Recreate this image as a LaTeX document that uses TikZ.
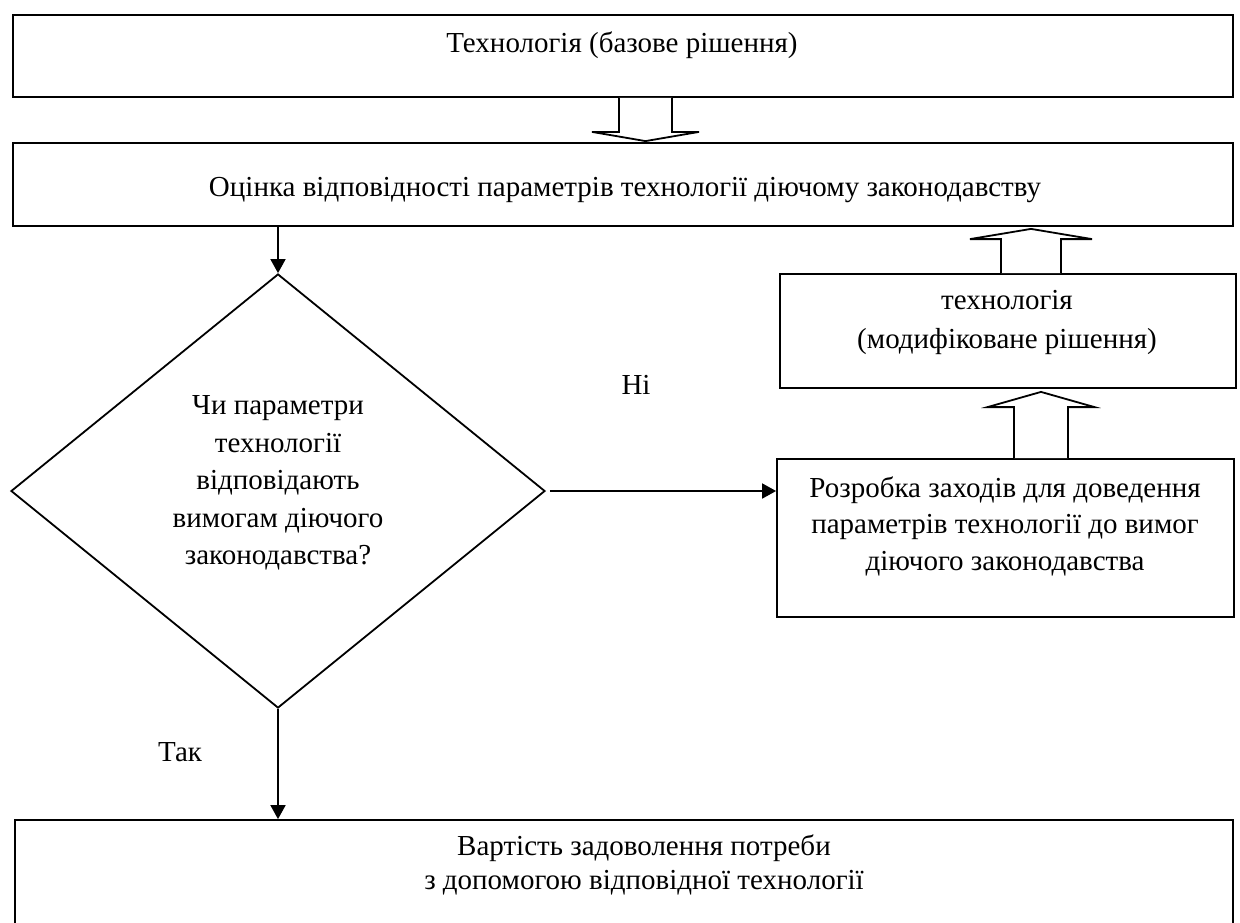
\documentclass[tikz,border=0pt]{standalone}
\usepackage{fontspec}
\setmainfont{Liberation Serif}
\usetikzlibrary{arrows.meta,shapes.geometric,calc}
\begin{document}
\begin{tikzpicture}[x=1pt,y=-1pt,
  box/.style={draw,line width=1.8pt,rectangle,inner sep=0pt},
  txt/.style={font=\fontsize{29}{36.5}\selectfont,align=center,inner sep=0pt},
  arr/.style={line width=1.8pt,-{Triangle[length=14pt,width=15pt]}},
  barrow/.style={draw,line width=1.8pt,line join=miter,fill=white}]
\useasboundingbox (0,0) rectangle (1240,922);
\clip (0,0) rectangle (1240,922);

% boxes
\node[box,minimum width=1220pt,minimum height=82pt] (base) at (623,56) {};
\node[box,minimum width=1220pt,minimum height=83pt] (eval) at (623,184.5) {};
\node[draw,line width=1.8pt,diamond,inner sep=0pt,minimum width=534pt,minimum height=434pt] (dec) at (278,491) {};
\node[box,minimum width=456pt,minimum height=114pt] (mod) at (1008,331) {};
\node[box,minimum width=457pt,minimum height=158pt] (dev) at (1005.5,538) {};
\node[box,minimum width=1218pt,minimum height=200pt] (res) at (624,920) {};

% texts
\node[txt] (baseT) at (622,45) {Технологія (базове рішення)};
\node[txt] (evalT) at (625,190) {Оцінка відповідності параметрів технології діючому законодавству};
\node[txt,font=\fontsize{29}{37.5}\selectfont] (decT) at (278,483) {Чи параметри\\технології\\відповідають\\вимогам діючого\\законодавства?};
\node[txt,font=\fontsize{29}{39}\selectfont] (modT) at (1007,322) {технологія\\(модифіковане рішення)};
\node[txt] (devT) at (1005,526) {Розробка заходів для доведення\\параметрів технології до вимог\\діючого законодавства};
\node[txt,font=\fontsize{29}{34}\selectfont] (resT) at (644,865) {Вартість задоволення потреби\\з допомогою відповідної технології};
\node[txt] (no) at (636,385) {Ні};
\node[txt] (yes) at (180,752) {Так};

% thin connectors
\draw[arr] (eval.south -| dec.north) -- (dec.north);
\draw[arr] ([xshift=4pt]dec.east) -- (dec.east -| dev.west);
\draw[arr] (dec.south) -- (dec.south |- res.north);

% block arrows
\coordinate (x1) at (645.5,0);
\coordinate (x2) at (1031,0);
\coordinate (x3) at (1041,0);
\path (base.south -| x1) coordinate (s1) (eval.north -| x1) coordinate (t1);
\path (mod.north -| x2) coordinate (s2) (eval.south -| x2) coordinate (t2);
\path (dev.north -| x3) coordinate (s3) (mod.south -| x3) coordinate (t3);

\draw[barrow] ($(s1)+(-26.5,0)$) -- ($(s1)+(-26.5,34)$) -- ($(s1)+(-53.5,34)$)
  -- ($(t1)+(0,-1)$) -- ($(s1)+(53.5,34)$) -- ($(s1)+(26.5,34)$) -- ($(s1)+(26.5,0)$);
\draw[barrow] ($(s2)+(-30,0)$) -- ($(s2)+(-30,-34)$) -- ($(s2)+(-61,-34)$)
  -- ($(t2)+(0,2)$) -- ($(s2)+(61,-34)$) -- ($(s2)+(30,-34)$) -- ($(s2)+(30,0)$);
\draw[barrow] ($(s3)+(-27,0)$) -- ($(s3)+(-27,-51)$) -- ($(s3)+(-53.5,-51)$)
  -- ($(t3)+(0,3)$) -- ($(s3)+(53.5,-51)$) -- ($(s3)+(27,-51)$) -- ($(s3)+(27,0)$);
\end{tikzpicture}
\end{document}
